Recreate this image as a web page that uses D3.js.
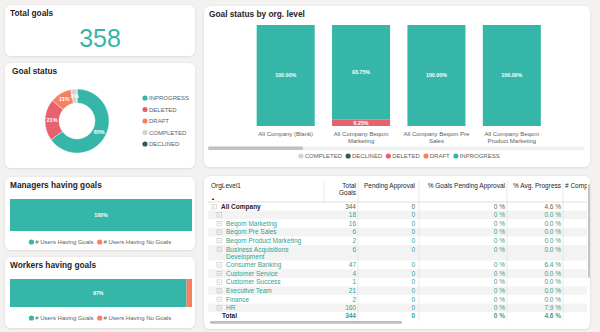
<!DOCTYPE html>
<html>
<head>
<meta charset="utf-8">
<script src="https://cdn.jsdelivr.net/npm/d3@7"></script>
<style>
body { margin: 0; background: #f3f2f1; }
svg { display: block; font-family: "Liberation Sans", Arial, sans-serif; }
.title { font-size: 8.3px; font-weight: bold; fill: #252423; }
.leg { font-size: 6px; fill: #605e5c; }
.cell { font-size: 6.5px; }
</style>
</head>
<body>
<svg id="dash"></svg>
<script>
// ---- data ----
var totalGoals = 358;

var statusKeys = ["INPROGRESS", "DELETED", "DRAFT", "COMPLETED", "DECLINED"];
var statusCounts = [233, 75, 39, 11, 0];
var statusColors = ["#35b6a8", "#e8626e", "#f9805e", "#d3d3d3", "#2e5d55"];

var orgCats = ["All Company (Blank)", "All Company Beqom Marketing", "All Company Beqom Pre Sales", "All Company Beqom Product Marketing"];
var orgKeys = ["COMPLETED", "DECLINED", "DELETED", "DRAFT", "INPROGRESS"];
var orgCompleted = [0, 0, 0, 0];
var orgDeclined = [0, 0, 0, 0];
var orgDeleted = [0, 6.25, 0, 0];
var orgDraft = [0, 0, 0, 0];
var orgInprogress = [100, 93.75, 100, 100];

var userKeys = ["# Users Having Goals", "# Users Having No Goals"];
var userColors = ["#35b6a8", "#f9805e"];
var managersPct = [100, 0];
var workersPct = [97, 3];

var tableHeaders = ["OrgLevel1", "Total Goals", "Pending Approval", "% Goals Pending Approval", "% Avg. Progress", "# Completed Goals"];
var topName = "All Company";
var topValues = [344, 0, 0, 4.6];
var orgNames = ["", "Beqom Marketing", "Beqom Pre Sales", "Beqom Product Marketing", "Business Acquisitions Development",
  "Consumer Banking", "Customer Service", "Customer Success", "Executive Team", "Finance", "HR"];
var rowGoals = [18, 16, 6, 2, 6, 47, 4, 1, 21, 2, 160];
var rowPending = [0, 0, 0, 0, 0, 0, 0, 0, 0, 0, 0];
var rowPctPending = [0, 0, 0, 0, 0, 0, 0, 0, 0, 0, 0];
var rowProgress = [0.0, 0.0, 0.0, 0.0, 0.0, 6.4, 0.0, 0.0, 0.0, 0.0, 7.9];
var totalValues = [344, 0, 0, 4.6];

// ---- page ----
var svg = d3.select("#dash").attr("width", 600).attr("height", 332);
svg.append("rect").attr("width", 600).attr("height", 332).attr("fill", "#f3f2f1");

var defs = svg.append("defs");
var sh = defs.append("filter").attr("id", "shadow")
  .attr("x", "-5%").attr("y", "-8%").attr("width", "110%").attr("height", "116%");
sh.append("feDropShadow").attr("dx", 0).attr("dy", 0.5).attr("stdDeviation", 1.2)
  .attr("flood-color", "#000").attr("flood-opacity", 0.13);

function card(x, y, w, h, title, tx, ty) {
  svg.append("rect").attr("x", x).attr("y", y).attr("width", w).attr("height", h)
    .attr("rx", 6).attr("fill", "#fff").attr("filter", "url(#shadow)");
  if (title) svg.append("text").attr("class", "title").attr("x", tx).attr("y", ty).text(title);
}

// word wrap for tspans
function wrap(sel, width, lh) {
  sel.each(function () {
    var text = d3.select(this), words = text.text().split(/\s+/).reverse(),
      x = text.attr("x") || 0, y = text.attr("y"), dy = parseFloat(text.attr("dy") || 0),
      line = [], lineNo = 0, word,
      tspan = text.text(null).append("tspan").attr("x", x).attr("y", y).attr("dy", dy + "em");
    while ((word = words.pop())) {
      line.push(word);
      tspan.text(line.join(" "));
      if (tspan.node().getComputedTextLength() > width && line.length > 1) {
        line.pop();
        tspan.text(line.join(" "));
        line = [word];
        tspan = text.append("tspan").attr("x", x).attr("y", y)
          .attr("dy", (++lineNo * lh + dy) + "em").text(word);
      }
    }
  });
}

// horizontal legend, centred
function hLegend(keys, colors, cx, cy) {
  var g = svg.append("g");
  var items = g.selectAll("g").data(keys).join("g");
  items.append("circle").attr("r", 2.6).attr("cy", 0).attr("fill", (d, i) => colors[i]);
  items.append("text").attr("class", "leg").attr("x", 3.8).attr("dy", "0.35em").text(d => d);
  var pos = 0;
  items.each(function () {
    var w = d3.select(this).select("text").node().getComputedTextLength();
    d3.select(this).attr("transform", "translate(" + (pos + 2.6) + ",0)");
    pos += w + 3.8 + 2.6 + 3.5;
  });
  g.attr("transform", "translate(" + (cx - (pos - 3.5) / 2) + "," + cy + ")");
}

// ---- Total goals ----
card(5, 5, 190, 51, "Total goals", 10, 16);
svg.append("text").attr("x", 100).attr("y", 47).attr("text-anchor", "middle")
  .style("font-size", "25px").attr("fill", "#35b6a8").text(totalGoals);

// ---- Goal status donut ----
card(5, 63, 190, 105, "Goal status", 12, 74);
var dg = svg.append("g").attr("transform", "translate(77,121)");
var pie = d3.pie().sort(null).value(d => d);
var arcs = pie(statusCounts);
var arc = d3.arc().innerRadius(18).outerRadius(32);
var labelArc = d3.arc().innerRadius(25).outerRadius(25);
var sum = d3.sum(statusCounts);
dg.selectAll("path").data(arcs).join("path")
  .attr("d", arc).attr("fill", (d, i) => statusColors[i])
  .attr("stroke", "#fff").attr("stroke-width", 0.4);
dg.selectAll("text").data(arcs.filter(d => d.value > 0)).join("text")
  .attr("transform", d => "translate(" + labelArc.centroid(d) + ")")
  .attr("text-anchor", "middle").attr("dy", "0.35em")
  .style("font-size", "5.5px").style("font-weight", "bold").attr("fill", "#fff")
  .text(d => Math.round(d.value / sum * 100) + "%");

var ly = d3.scalePoint().domain(statusKeys).range([98, 144]);
var sl = svg.append("g").selectAll("g").data(statusKeys).join("g")
  .attr("transform", d => "translate(145," + ly(d) + ")");
sl.append("circle").attr("r", 2.6).attr("fill", (d, i) => statusColors[i]);
sl.append("text").attr("class", "leg").attr("x", 4).attr("dy", "0.35em").text(d => d);

// ---- Goal status by org. level ----
card(204, 6, 386, 161, "Goal status by org. level", 209, 17);
var orgRows = orgCats.map(function (c, i) {
  return { cat: c, COMPLETED: orgCompleted[i], DECLINED: orgDeclined[i], DELETED: orgDeleted[i], DRAFT: orgDraft[i], INPROGRESS: orgInprogress[i] };
});
var orgColor = d3.scaleOrdinal().domain(orgKeys).range(["#d3d3d3", "#2e5d55", "#e8626e", "#f9805e", "#35b6a8"]);
var x = d3.scaleBand().domain(orgCats).range([248, 549.5]).paddingInner(0.23).paddingOuter(0.115);
var y = d3.scaleLinear().domain([0, 100]).range([126, 25]);
var series = d3.stack().keys(orgKeys)(orgRows);
var sg = svg.append("g").selectAll("g").data(series).join("g").attr("fill", d => orgColor(d.key));
sg.selectAll("rect").data(d => d).join("rect")
  .attr("x", d => x(d.data.cat)).attr("width", x.bandwidth())
  .attr("y", d => y(d[1])).attr("height", d => y(d[0]) - y(d[1]));
sg.selectAll("text").data(d => d.filter(p => p[1] - p[0] > 0)).join("text")
  .attr("x", d => x(d.data.cat) + x.bandwidth() / 2)
  .attr("y", d => (y(d[0]) + y(d[1])) / 2).attr("dy", "0.35em")
  .attr("text-anchor", "middle").attr("fill", "#fff")
  .style("font-size", "5.3px").style("font-weight", "bold")
  .text(d => (d[1] - d[0]).toFixed(2) + "%");

var xa = svg.append("g").attr("transform", "translate(0,130)")
  .call(d3.axisBottom(x).tickSize(0).tickPadding(2));
xa.select(".domain").remove();
xa.selectAll("text").attr("fill", "#605e5c").style("font-size", "6px")
  .style("font-family", "'Liberation Sans', Arial, sans-serif")
  .call(wrap, 70, 1.1);

svg.append("rect").attr("x", 208).attr("y", 146.5).attr("width", 376).attr("height", 3.5).attr("fill", "#f0f0f0");
svg.append("rect").attr("x", 208).attr("y", 146.5).attr("width", 95).attr("height", 3.5).attr("rx", 1.5).attr("fill", "#c1c1c1");
hLegend(orgKeys, orgKeys.map(k => orgColor(k)), 399, 156);

// ---- users having goals ----
function userBar(y0, title, vals) {
  var top = y0, xs = d3.scaleLinear().domain([0, 100]).range([10, 192]);
  var segs = d3.stack().keys(userKeys)([{ a: userKeys[0], [userKeys[0]]: vals[0], [userKeys[1]]: vals[1] }]);
  return { xs: xs, segs: segs };
}
function drawUsers(cardY, cardH, title, titleY, vals, barY0, barY1, legY) {
  card(5, cardY, 190, cardH, title, 10, titleY);
  var xs = d3.scaleLinear().domain([0, 100]).range([10, 192]);
  var row = {};
  userKeys.forEach((k, i) => row[k] = vals[i]);
  var segs = d3.stack().keys(userKeys)([row]);
  var g = svg.append("g");
  g.selectAll("rect").data(segs).join("rect")
    .attr("x", d => xs(d[0][0])).attr("width", d => xs(d[0][1]) - xs(d[0][0]))
    .attr("y", barY0).attr("height", barY1 - barY0)
    .attr("fill", (d, i) => userColors[i]);
  g.selectAll("text").data(segs.filter(d => d[0][1] - d[0][0] > 10)).join("text")
    .attr("x", d => (xs(d[0][0]) + xs(d[0][1])) / 2).attr("y", (barY0 + barY1) / 2)
    .attr("dy", "0.35em").attr("text-anchor", "middle").attr("fill", "#fff")
    .style("font-size", "5.3px").style("font-weight", "bold")
    .text(d => (d[0][1] - d[0][0]) + "%");
  hLegend(userKeys, userColors, 100, legY);
}
drawUsers(177, 73, "Managers having goals", 188, managersPct, 199, 231, 242);
drawUsers(257, 71, "Workers having goals", 268, workersPct, 279, 307, 318);

// ---- table ----
card(204, 176, 386, 153, null);
defs.append("clipPath").attr("id", "tclip").append("rect")
  .attr("x", 205).attr("y", 176).attr("width", 382).attr("height", 152);
var tg = svg.append("g").attr("clip-path", "url(#tclip)");
var teal = "#2ea395";
var colX = [211, 356, 415, 505, 561, 565];

// header
tg.append("text").attr("class", "cell").attr("x", colX[0]).attr("y", 188).attr("fill", "#252423").text(tableHeaders[0]);
tg.append("text").attr("x", 211).attr("y", 199.5).style("font-size", "4px").attr("fill", "#252423").text("\u25B2");
tg.append("text").attr("class", "cell").attr("x", colX[1]).attr("y", 188).attr("text-anchor", "end")
  .attr("fill", "#252423").text(tableHeaders[1]).call(wrap, 20, 1);
[2, 3, 4].forEach(function (i) {
  tg.append("text").attr("class", "cell").attr("x", colX[i]).attr("y", 188).attr("text-anchor", "end")
    .attr("fill", "#252423").text(tableHeaders[i]);
});
tg.append("text").attr("class", "cell").attr("x", colX[5]).attr("y", 188).attr("fill", "#252423").text(tableHeaders[5]);

// rows: measure wrapped names first
var rowH = 8.6, extraLine = 7;
var names = [topName].concat(orgNames);
var lines = names.map(function (n, i) {
  if (i === 0) return 1;
  var t = tg.append("text").attr("class", "cell").attr("x", 226).attr("y", -50).text(n);
  wrap(t, 96, 1.1);
  var c = t.selectAll("tspan").size();
  t.remove();
  return c;
});
var rowTop = [], yy = 202;
lines.forEach(function (c) { rowTop.push(yy); yy += rowH + (c - 1) * extraLine; });
rowTop.push(yy);

// shading on alternate child rows
tg.selectAll("rect.shade").data(orgNames.map((d, i) => i).filter(i => i % 2 === 0)).join("rect")
  .attr("class", "shade").attr("x", 208).attr("width", 380)
  .attr("y", i => rowTop[i + 1]).attr("height", i => rowTop[i + 2] - rowTop[i + 1])
  .attr("fill", "#f3f3f3");

// grid lines
tg.append("line").attr("x1", 324).attr("x2", 324).attr("y1", 181).attr("y2", 202).attr("stroke", "#e1e1e1").attr("stroke-width", 0.7);
[358, 419, 507, 563].forEach(function (gx) {
  tg.append("line").attr("x1", gx).attr("x2", gx).attr("y1", 181).attr("y2", 321).attr("stroke", "#e1e1e1").attr("stroke-width", 0.7);
});
tg.append("line").attr("x1", 208).attr("x2", 588).attr("y1", 202).attr("y2", 202).attr("stroke", "#d0d0d0").attr("stroke-width", 0.7);

function icon(ix, cy) {
  tg.append("rect").attr("x", ix).attr("y", cy - 2.2).attr("width", 4.4).attr("height", 4.4)
    .attr("fill", "none").attr("stroke", "#b3b3b3").attr("stroke-width", 0.5);
  tg.append("line").attr("x1", ix + 1.1).attr("x2", ix + 3.3).attr("y1", cy).attr("y2", cy)
    .attr("stroke", "#b3b3b3").attr("stroke-width", 0.5);
}
function valueCells(vals, cy, color, bold) {
  var txt = [String(vals[0]), String(vals[1]), vals[2] + " %", vals[3].toFixed(1) + " %"];
  txt.forEach(function (t, j) {
    tg.append("text").attr("class", "cell").attr("x", colX[j + 1]).attr("y", cy).attr("dy", "0.35em")
      .attr("text-anchor", "end").attr("fill", color).style("font-weight", bold ? "bold" : null).text(t);
  });
}

// All Company row
var c0 = rowTop[0] + rowH / 2 + 0.5;
icon(212, c0);
tg.append("text").attr("class", "cell").attr("x", 221).attr("y", c0).attr("dy", "0.35em")
  .attr("fill", "#252423").style("font-weight", "bold").text(topName);
valueCells(topValues, c0, "#605e5c", false);

// child rows
orgNames.forEach(function (n, i) {
  var cy = rowTop[i + 1] + rowH / 2;
  icon(217, cy);
  var t = tg.append("text").attr("class", "cell").attr("x", 226).attr("y", cy).attr("dy", "0.35em")
    .attr("fill", teal).text(n);
  wrap(t, 96, 1.1);
  valueCells([rowGoals[i], rowPending[i], rowPctPending[i], rowProgress[i]], cy, teal, false);
});

// Total row
var ct = rowTop[rowTop.length - 1] + 4;
tg.append("text").attr("class", "cell").attr("x", 222).attr("y", ct).attr("dy", "0.35em")
  .attr("fill", "#252423").style("font-weight", "bold").text("Total");
valueCells(totalValues, ct, teal, true);

// scrollbars
svg.append("rect").attr("x", 210).attr("y", 321).attr("width", 192).attr("height", 2.8).attr("rx", 1.4).attr("fill", "#bdbdbd");
svg.append("rect").attr("x", 588).attr("y", 184).attr("width", 2).attr("height", 94).attr("rx", 1).attr("fill", "#c4c4c4");
</script>
</body>
</html>
